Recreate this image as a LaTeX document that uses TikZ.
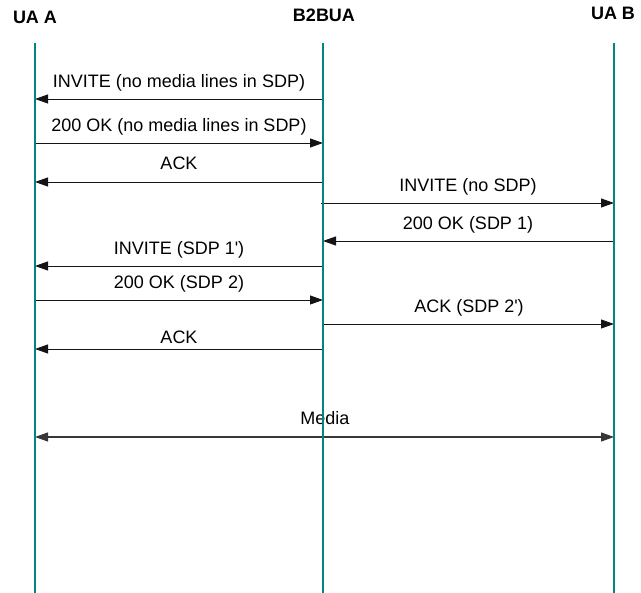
\documentclass[tikz,border=0pt]{standalone}
\usepackage{fontspec}
\setmainfont{Liberation Sans}
\usetikzlibrary{arrows.meta}
\definecolor{life}{RGB}{0,133,133}
\definecolor{arr}{RGB}{20,20,20}
\begin{document}
\begin{tikzpicture}[x=1pt,y=-1pt,
  lifeline/.style={draw=life,line width=2.8pt},
  msg/.style={draw=arr,line width=0.9pt,-{Triangle[length=13pt,width=9pt]}},
  twoway/.style={draw=arr!85,line width=1.1pt,{Triangle[length=13pt,width=9pt]}-{Triangle[length=13pt,width=9pt]}},
  lbl/.style={font=\fontsize{18}{20}\selectfont,anchor=base,inner sep=0pt},
  hdr/.style={font=\bfseries\fontsize{18}{20}\selectfont,anchor=base,inner sep=0pt}]
\useasboundingbox (0,0) rectangle (641,593);
% headers
\node[hdr] (hA) at (35,24) {UA A};
\node[hdr] (hB) at (324,22) {B2BUA};
\node[hdr] (hC) at (613,20) {UA B};
% lifeline ends
\coordinate (Atop) at (35,43);  \coordinate (Abot) at (35,594);
\coordinate (Btop) at (323,43); \coordinate (Bbot) at (323,594);
\coordinate (Ctop) at (614,43); \coordinate (Cbot) at (614,594);
% message end points
\coordinate (m1b) at (323,99);  \coordinate (m1a) at (35,99);
\coordinate (m2a) at (35,143);  \coordinate (m2b) at (323,143);
\coordinate (m3b) at (323,182); \coordinate (m3a) at (35,182);
\coordinate (m4b) at (321,203); \coordinate (m4c) at (614,203);
\coordinate (m5c) at (614,241); \coordinate (m5b) at (323,241);
\coordinate (m6b) at (323,266); \coordinate (m6a) at (35,266);
\coordinate (m7a) at (35,300);  \coordinate (m7b) at (323,300);
\coordinate (m8b) at (323,324); \coordinate (m8c) at (614,324);
\coordinate (m9b) at (323,349); \coordinate (m9a) at (35,349);
\coordinate (mxa) at (35,437);  \coordinate (mxc) at (614,437);
% messages
\draw[msg] (m1b) -- (m1a);
\node[lbl] (l1) at (179,88) {INVITE (no media lines in SDP)};
\draw[msg] (m2a) -- (m2b);
\node[lbl] (l2) at (179,132) {200 OK (no media lines in SDP)};
\draw[msg] (m3b) -- (m3a);
\node[lbl] (l3) at (179,170) {ACK};
\draw[msg] (m4b) -- (m4c);
\node[lbl] (l4) at (468,192) {INVITE (no SDP)};
\draw[msg] (m5c) -- (m5b);
\node[lbl] (l5) at (468,230) {200 OK (SDP 1)};
\draw[msg] (m6b) -- (m6a);
\node[lbl] (l6) at (179,255) {INVITE (SDP 1\textquotesingle)};
\draw[msg] (m7a) -- (m7b);
\node[lbl] (l7) at (179,289) {200 OK (SDP 2)};
\draw[msg] (m8b) -- (m8c);
\node[lbl] (l8) at (469,313) {ACK (SDP 2\textquotesingle)};
\draw[msg] (m9b) -- (m9a);
\node[lbl] (l9) at (179,344) {ACK};
\draw[twoway] (mxa) -- (mxc);
\node[lbl] (l10) at (325,425) {Media};
% lifelines on top
\draw[lifeline] (Atop) -- (Abot);
\draw[lifeline] (Btop) -- (Bbot);
\draw[lifeline] (Ctop) -- (Cbot);
\end{tikzpicture}
\end{document}
